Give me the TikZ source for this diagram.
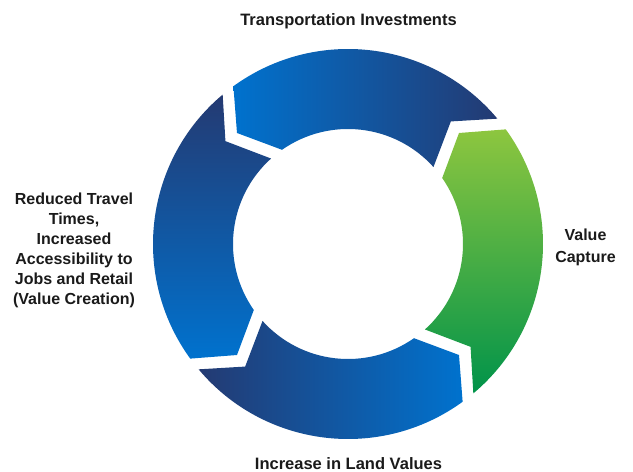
\documentclass[tikz,border=0pt]{standalone}
\usepackage{fontspec}
\setmainfont{Liberation Sans}
\definecolor{lblue}{HTML}{0072CE}
\definecolor{dblue}{HTML}{243A72}
\definecolor{lgreen}{HTML}{8DC63F}
\definecolor{dgreen}{HTML}{00934A}
\definecolor{txt}{HTML}{1A1A1A}
\tikzset{
  lbl/.style={font=\bfseries\fontsize{16}{20}\selectfont, text=txt, inner sep=0pt, align=center},
  biglbl/.style={lbl, font=\bfseries\fontsize{16.5}{20}\selectfont},
}
\newcommand{\ringseg}[1]{%
  (126+#1:195) arc[start angle=126+#1, end angle=40+#1, radius=195]
  -- (50+#1:160) -- (42+#1:115)
  arc[start angle=42+#1, end angle=125+#1, radius=115]
  -- (135+#1:157) -- cycle}
\begin{document}
\begin{tikzpicture}[x=1pt,y=1pt]
\useasboundingbox (0,0) rectangle (633,472);
\begin{scope}[shift={(348,228)}]
  \shade[left color=lblue, right color=dblue] \ringseg{0};
  \shade[top color=dblue, bottom color=lblue] \ringseg{90};
  \shade[left color=dblue, right color=lblue] \ringseg{180};
  \shade[top color=lgreen, bottom color=dgreen] \ringseg{270};
\end{scope}
\node[biglbl, anchor=base] (ti) at (348.5,446.5) {Transportation Investments};
\node[biglbl, anchor=base] (il) at (348.5,2.5) {Increase in Land Values};
\node[lbl, anchor=north, font=\bfseries\fontsize{16}{22}\selectfont] (vc) at (585.5,243.5) {Value\\Capture};
\node[lbl, anchor=north] (rt) at (74,279.5) {Reduced Travel\\Times,\\Increased\\Accessibility to\\Jobs and Retail\\(Value Creation)};
\end{tikzpicture}
\end{document}
